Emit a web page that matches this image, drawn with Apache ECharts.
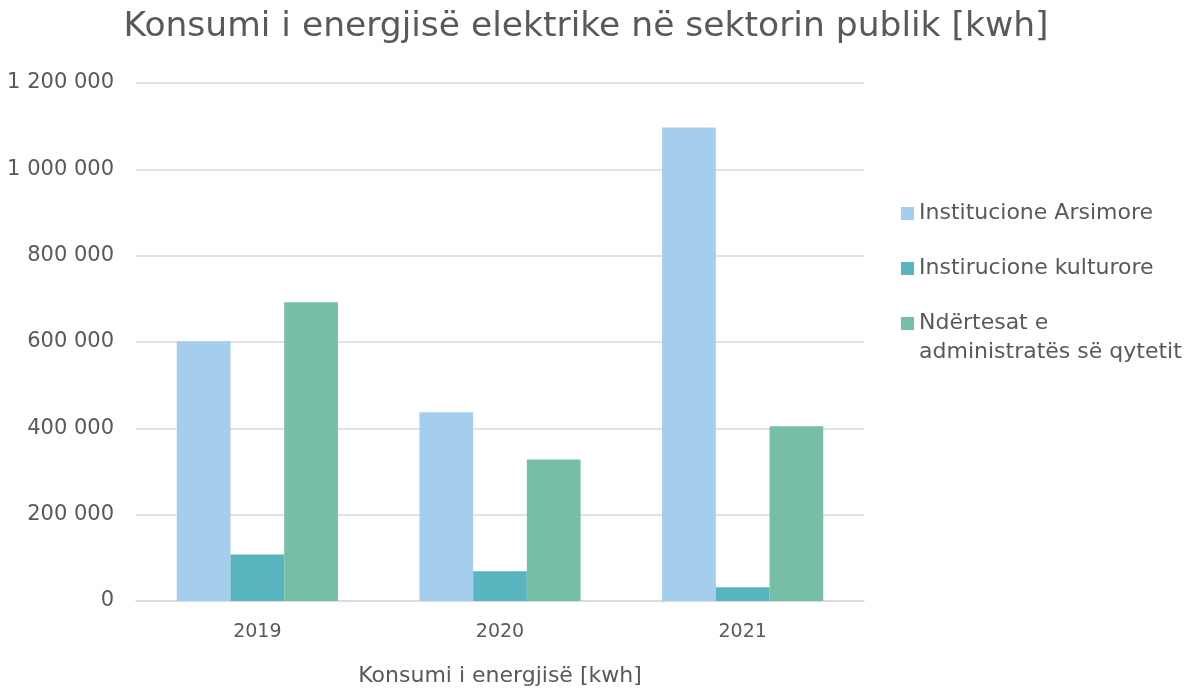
<!DOCTYPE html>
<html>
<head>
<meta charset="utf-8">
<script src="https://cdn.jsdelivr.net/npm/echarts@6/dist/echarts.min.js"></script>
<style>
  html, body { margin: 0; padding: 0; background: #fff; }
  #chart { width: 1192px; height: 691px; }
</style>
</head>
<body>
<div id="chart"></div>
<script>
// Years on the category axis
const years = ['2019', '2020', '2021'];

// Annual consumption per building group [kwh]
const arsimore = [602000, 437000, 1097000];
const kulturore = [108000, 69000, 32000];
const administrata = [692000, 328000, 405000];

// Series names as shown in the legend
const names = ['Institucione Arsimore', 'Instirucione kulturore', 'Ndërtesat e administratës së qytetit'];

// Value axis ticks
const yMin = 0, yMax = 1200000, yStep = 200000;

const colors = ['#A4CDEE', '#58B5BF', '#76BEA6'];
const textGray = '#595959';
const fontFamily = 'DejaVu Sans';

function spaced(v) {
  return String(v).replace(/\B(?=(\d{3})+(?!\d))/g, ' ');
}

const chart = echarts.init(document.getElementById('chart'), null, { renderer: 'canvas' });

const seriesData = [arsimore, kulturore, administrata];

chart.setOption({
  animation: false,
  backgroundColor: '#ffffff',
  color: colors,
  textStyle: { fontFamily: fontFamily, color: textGray },
  title: {
    text: 'Konsumi i energjisë elektrike në sektorin publik [kwh]',
    left: 586,
    top: 10,
    padding: 0,
    textAlign: 'center',
    textStyle: { fontFamily: fontFamily, fontSize: 34.5, fontWeight: 'normal', color: textGray }
  },
  legend: [
    {
      orient: 'vertical',
      left: 901,
      top: 199,
      padding: 0,
      itemWidth: 13,
      itemHeight: 13,
      itemGap: 26,
      icon: 'rect',
      data: [names[0], names[1]],
      textStyle: { fontFamily: fontFamily, fontSize: 22, color: textGray, lineHeight: 29 }
    },
    {
      orient: 'vertical',
      left: 901,
      top: 280,
      padding: 0,
      itemWidth: 13,
      itemHeight: 13,
      icon: 'rect',
      data: [names[2]],
      // leading empty line keeps the marker level with the first text line
      formatter: function () { return '\nNdërtesat e\nadministratës së qytetit'; },
      textStyle: { fontFamily: fontFamily, fontSize: 22, color: textGray, lineHeight: 29 }
    }
  ],
  grid: { left: 136, right: 328, top: 83, bottom: 90, containLabel: false, outerBoundsMode: 'none' },
  xAxis: {
    type: 'category',
    data: years,
    name: 'Konsumi i energjisë [kwh]',
    nameLocation: 'middle',
    nameGap: 64,
    nameTextStyle: { fontFamily: fontFamily, fontSize: 22, color: textGray },
    axisLine: { lineStyle: { color: '#d9d9d9', width: 1.5 } },
    axisTick: { show: false },
    axisLabel: { fontFamily: fontFamily, fontSize: 19, color: textGray, margin: 22 }
  },
  yAxis: {
    type: 'value',
    min: yMin,
    max: yMax,
    interval: yStep,
    axisLine: { show: false },
    axisTick: { show: false },
    splitLine: { lineStyle: { color: '#d9d9d9', width: 1.5 } },
    axisLabel: {
      fontFamily: fontFamily, fontSize: 21, color: textGray, margin: 22,
      formatter: function (v) { return spaced(v); }
    }
  },
  series: names.map(function (n, i) {
    return {
      name: n,
      type: 'bar',
      data: seriesData[i],
      barGap: '0%',
      barCategoryGap: '33.6%',
      itemStyle: { color: colors[i] }
    };
  })
});
</script>
</body>
</html>
